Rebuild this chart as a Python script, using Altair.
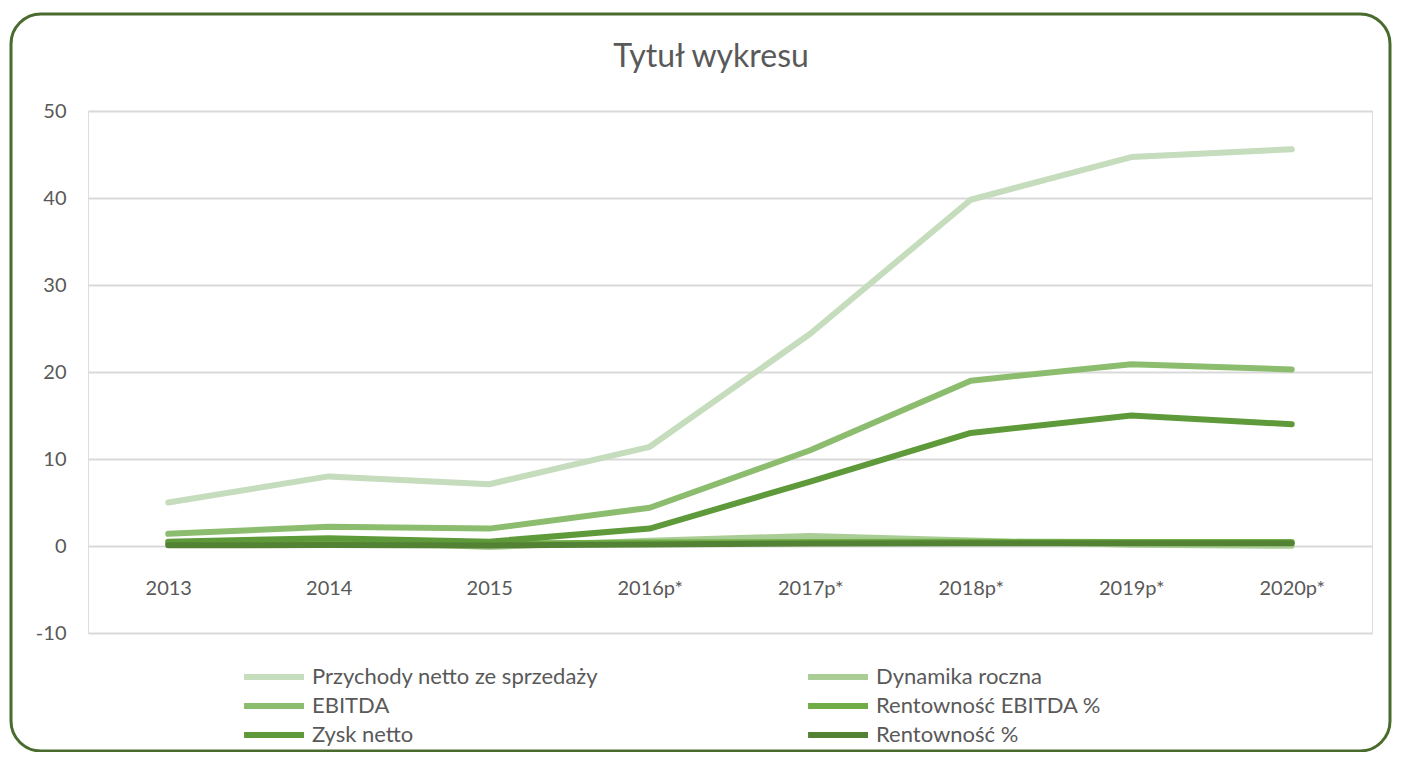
import altair as alt
import pandas as pd

years = ["2013", "2014", "2015", "2016p*", "2017p*", "2018p*", "2019p*", "2020p*"]
series_names = [
    "Przychody netto ze sprzedaży",
    "Dynamika roczna",
    "EBITDA",
    "Rentowność EBITDA %",
    "Zysk netto",
    "Rentowność %",
]
przychody = [5.0, 8.0, 7.1, 11.4, 24.4, 39.8, 44.7, 45.6]
dynamika = [None, 0.6, -0.12, 0.6, 1.15, 0.62, 0.13, 0.02]
ebitda = [1.4, 2.2, 2.0, 4.4, 11.0, 19.0, 20.9, 20.3]
rent_ebitda = [0.28, 0.26, 0.27, 0.39, 0.45, 0.48, 0.46, 0.45]
zysk = [0.5, 0.9, 0.5, 2.0, 7.4, 13.0, 15.0, 14.0]
rent = [0.08, 0.11, 0.06, 0.17, 0.30, 0.33, 0.33, 0.31]
colors = ["#c5dcbd", "#a9cd94", "#8cbd6e", "#70ad47", "#5f9a3a", "#548235"]

all_values = [przychody, dynamika, ebitda, rent_ebitda, zysk, rent]
rows = []
for name, vals in zip(series_names, all_values):
    for y, v in zip(years, vals):
        if v is not None:
            rows.append({"year": y, "series": name, "value": v})
df = pd.DataFrame(rows)

FONT = "Lato"
TXT = "#595959"

lines = alt.Chart(df).mark_line(strokeWidth=6, strokeCap="round", strokeJoin="round").encode(
    x=alt.X("year:N", sort=years, title=None,
            axis=alt.Axis(orient="bottom", offset=-87, labelPadding=32, domain=False, ticks=False,
                          grid=False, labelAngle=0, labelFont=FONT, labelFontSize=20, labelColor=TXT)),
    y=alt.Y("value:Q", title=None, scale=alt.Scale(domain=[-10, 50], nice=False),
            axis=alt.Axis(values=[-10, 0, 10, 20, 30, 40, 50], domain=False, ticks=False,
                          gridColor="#d9d9d9", gridWidth=2, labelPadding=22,
                          labelExpr="replace(datum.label, '\u2212', '-')",
                          labelFont=FONT, labelFontSize=20, labelColor=TXT)),
    color=alt.Color("series:N", sort=series_names,
                    scale=alt.Scale(domain=series_names, range=colors),
                    legend=alt.Legend(orient="none", legendX=191, legendY=552, columns=2,
                                      direction="horizontal",
                                      symbolType="M-4.45,0L1,0", symbolSize=484, symbolStrokeWidth=6,
                                      labelFont=FONT, labelFontSize=22, labelColor=TXT,
                                      rowPadding=3, columnPadding=197, labelOffset=5,
                                      title=None, labelLimit=0)),
    order=alt.Order("year:N"),
)

one = pd.DataFrame({"a": [0]})
border = alt.Chart(one).mark_rect(fill="transparent", stroke="#4a6b2e", strokeWidth=3,
                                  cornerRadius=30).encode(
    x=alt.value(-77), x2=alt.value(1302), y=alt.value(-97), y2=alt.value(640))

title = alt.Chart(one).mark_text(text="Tytuł wykresu", font=FONT, fontSize=32, color=TXT,
                                 baseline="middle", align="center").encode(
    x=alt.value(623), y=alt.value(-54))

chart = alt.layer(border, lines, title).properties(
    width=1284, height=522, autosize="none",
    padding={"left": 80, "top": 103, "right": 21, "bottom": 119},
).configure_view(stroke=None).configure(background="white")

chart.save("out.html", embed_options={"renderer": "svg", "actions": False})
